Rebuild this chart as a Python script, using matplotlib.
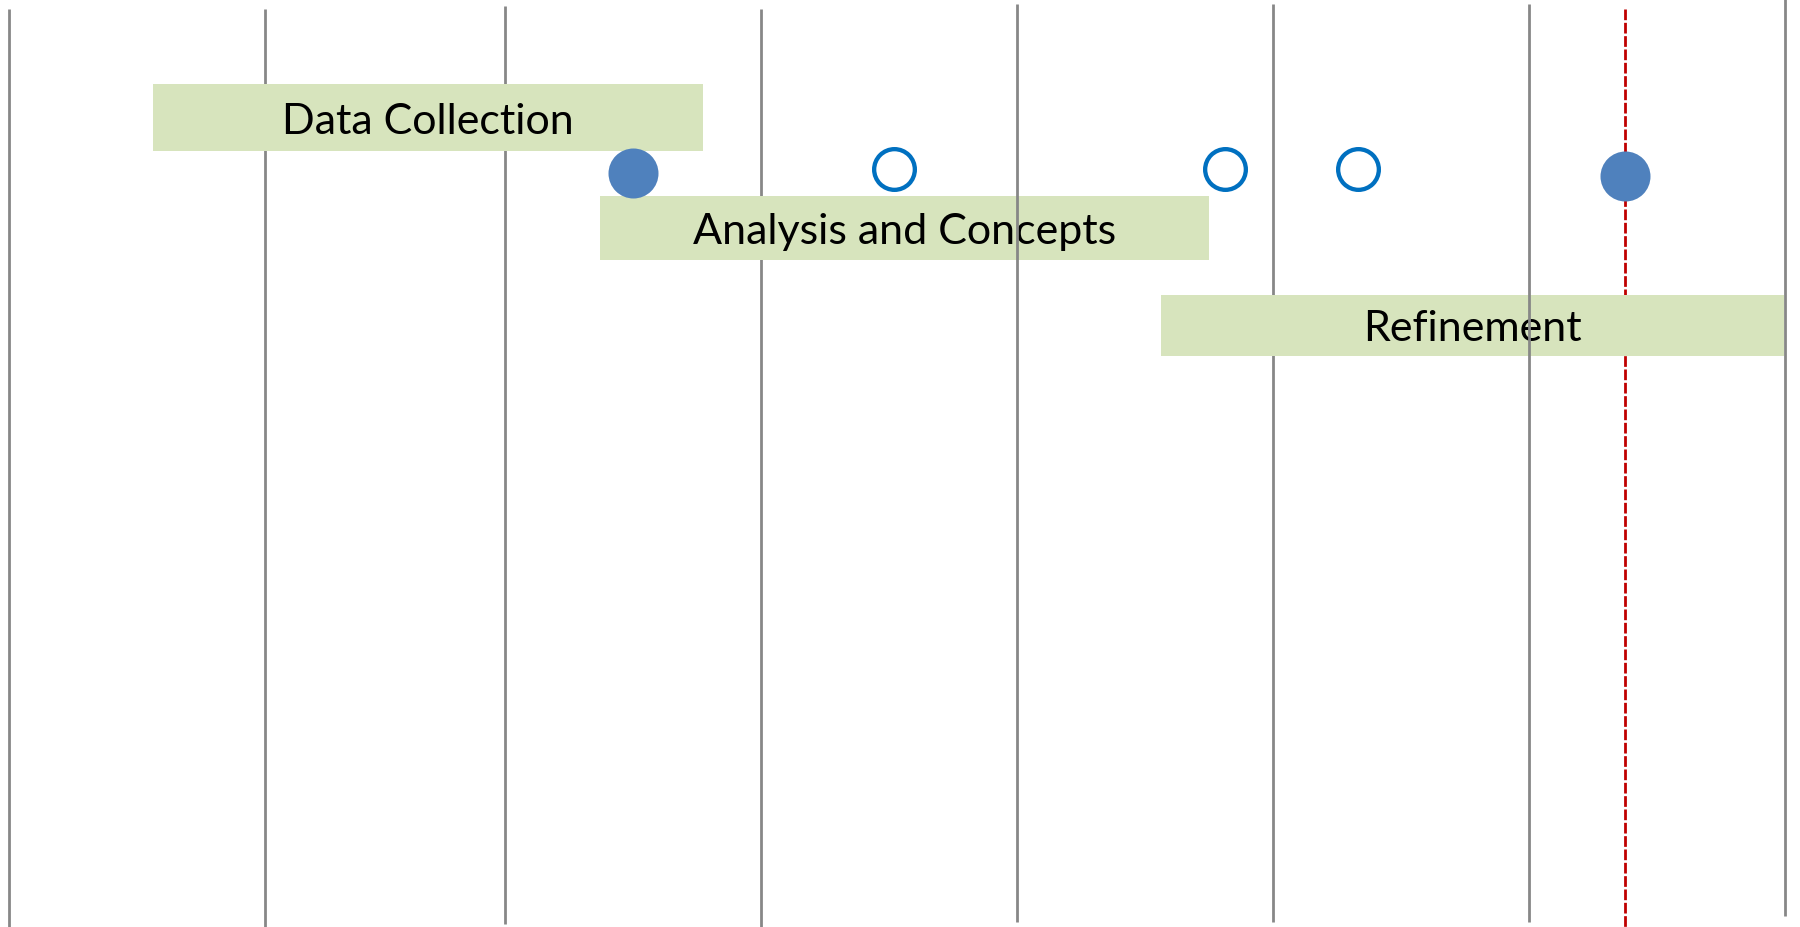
import matplotlib.pyplot as plt

# phases of the project timeline (x in periods, one grid line per period)
phases = ["Data Collection", "Analysis and Concepts", "Refinement"]
phase_start = [0.5625, 2.309, 4.5]
phase_end = [2.711, 4.6875, 6.934]

# milestones: filled = reached, open = planned
milestone_x = [2.4375, 3.457, 4.75, 5.27, 6.3125]
milestone_done = [True, False, False, False, True]

# period boundaries and the "today" marker
grid_x = [0, 1, 1.9375, 2.9375, 3.9375, 4.9375, 5.9375, 6.9375]
today_x = 6.3125

# layout (y in pixels from the top of the picture)
phase_top = [85, 197, 296]
phase_bottom = [152, 261, 357]
milestone_y = [174, 170, 170, 170, 177]
grid_top = [10, 10, 7, 10, 5, 5, 5, 0]
grid_bottom = [928, 928, 925, 928, 923, 923, 923, 917]
grid_front = [4, 6]  # lines drawn over the bars

bar_color = "#D7E4BD"
grid_color = "#878787"
done_color = "#4F81BD"
plan_color = "#0070C0"
today_color = "#C00000"

fig = plt.figure(figsize=(18, 9.28), dpi=100)
ax = fig.add_axes([0, 0, 1, 1])
ax.set_xlim(-9 / 256, 1791 / 256)
ax.set_ylim(928, 0)
ax.axis("off")

# grid lines
for i, x in enumerate(grid_x):
    z = 3 if i in grid_front else 1
    ax.plot([x, x], [grid_top[i], grid_bottom[i]], color=grid_color,
            lw=2.0, solid_capstyle="butt", zorder=z)

# today line
ax.plot([today_x, today_x], [10, 928], color=today_color, lw=2.0,
        linestyle=(0, (3.85, 0.95)), dash_capstyle="butt", zorder=1)

# phase bars with labels
for i, name in enumerate(phases):
    h = phase_bottom[i] - phase_top[i]
    ax.barh(phase_top[i], phase_end[i] - phase_start[i], height=h,
            left=phase_start[i], align="edge", color=bar_color, zorder=2)
    mid = (phase_start[i] + phase_end[i]) / 2
    yc = (phase_top[i] + phase_bottom[i]) / 2
    ax.text(mid, yc + 15, name, ha="center", va="baseline",
            fontsize=31, family=["Lato", "DejaVu Sans"], color="black", zorder=2.5)

# milestones
for x, y, done in zip(milestone_x, milestone_y, milestone_done):
    if done:
        ax.plot(x, y, "o", ms=36, mfc=done_color, mec=done_color, mew=0, zorder=4)
    else:
        ax.plot(x, y, "o", ms=29.3, mfc="white", mec=plan_color, mew=3.1, zorder=4)

fig.savefig("out.png", dpi=100)
